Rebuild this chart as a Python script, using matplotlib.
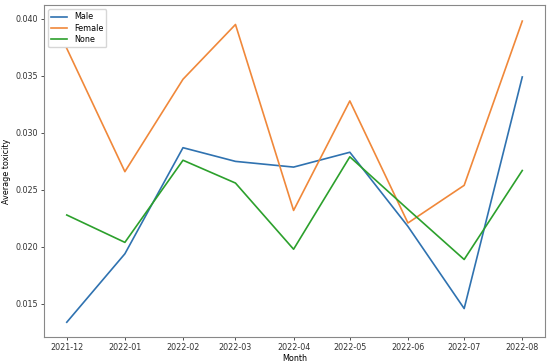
import numpy as np
import pandas as pd
import matplotlib
matplotlib.use("Agg")
import matplotlib.pyplot as plt
import matplotlib.dates as mdates

# ── Data ────────────────────────────────────────────────────────────────────
months = ["2021-12", "2022-01", "2022-02", "2022-03", "2022-04",
          "2022-05", "2022-06", "2022-07", "2022-08"]
male   = [0.0134, 0.0194, 0.0287, 0.0275, 0.0270, 0.0283, 0.0218, 0.0146, 0.0349]
female = [0.0374, 0.0266, 0.0347, 0.0395, 0.0232, 0.0328, 0.0221, 0.0254, 0.0398]
none   = [0.0228, 0.0204, 0.0276, 0.0256, 0.0198, 0.0279, 0.0233, 0.0189, 0.0267]

dates = pd.to_datetime(months)

FS = 5.8
plt.rcParams.update({
    "font.family": "DejaVu Sans",
    "font.size": FS,
})

fig = plt.figure(figsize=(5.5, 3.64), dpi=100)
ax = fig.add_axes([0.08, 0.074, 0.911, 0.912])

ax.plot(dates, male, color="#2f72b0", lw=1.2, label="Male")
ax.plot(dates, female, color="#f0883a", lw=1.2, label="Female")
ax.plot(dates, none, color="#2ca02c", lw=1.2, label="None")

ax.xaxis.set_major_locator(mdates.MonthLocator())
ax.xaxis.set_major_formatter(mdates.DateFormatter("%Y-%m"))
ax.set_ylim(0.0121, 0.0412)
ax.set_yticks([0.015, 0.020, 0.025, 0.030, 0.035, 0.040])
ax.yaxis.set_major_formatter(matplotlib.ticker.FormatStrFormatter("%.3f"))

ax.set_xlabel("Month", fontsize=FS, labelpad=1)
ax.set_ylabel("Average toxicity", fontsize=FS, labelpad=3)
ax.tick_params(labelsize=FS, length=2.5, width=0.6, pad=2, colors="#333333")
for s in ax.spines.values():
    s.set_color("#888888")
    s.set_linewidth(0.8)

ax.legend(loc="upper left", fontsize=FS, handlelength=2, borderpad=0.4,
          labelspacing=0.3)

fig.savefig("out.png", dpi=100)
